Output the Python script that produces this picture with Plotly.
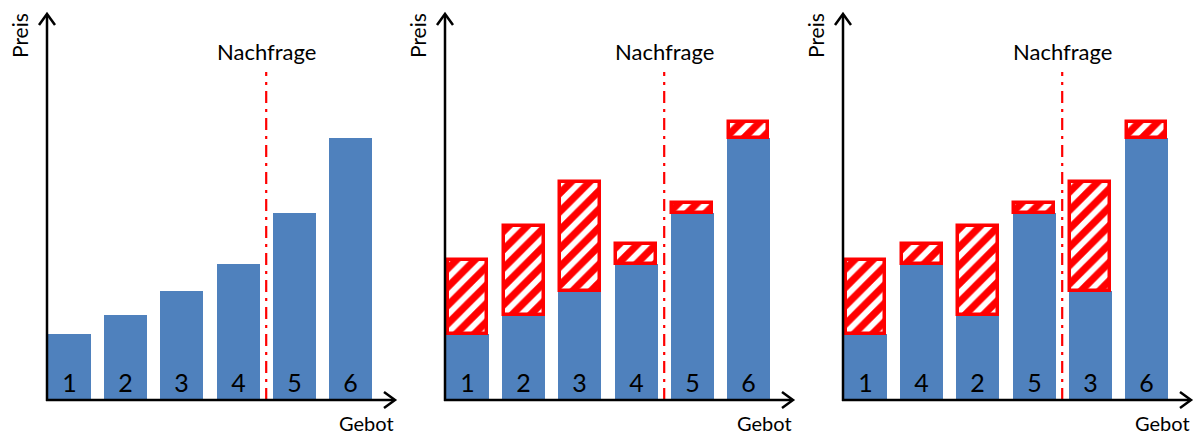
import plotly.graph_objects as go

# ---- data ----
bidders = ["1", "2", "3", "4", "5", "6"]
cost = [66, 85, 109, 136, 187, 262]          # blue bars (true cost)
bid = [140, 174, 218, 156, 197, 278]         # bid price (top of hatched box)
order3 = ["1", "4", "2", "5", "3", "6"]      # bidder order in panel 3
demand_pos = 3.5                             # position of demand line
demand_top = 328

W, H = 1200, 435
BLUE = "#4F81BD"
RED = "#FF0000"

def fx(px):
    return px / W

def fy(py):
    return 1 - py / H

panels = [(47, 395), (445, 793), (843, 1191)]
x_first_center = 69.5
spacing = 56.2
y_base_px = 400
y_top_px = 14

fig = go.Figure()

for i, (x0p, x1p) in enumerate(panels):
    sfx = "" if i == 0 else str(i + 1)
    xa = "x" + sfx
    ya = "y" + sfx
    rng_l = -(x_first_center - 47) / spacing
    rng_r = 5 + (395 - (x_first_center + 5 * spacing)) / spacing
    fig.layout["xaxis" + sfx] = dict(domain=[fx(x0p), fx(x1p)], range=[rng_l, rng_r],
                                     visible=False, fixedrange=True)
    fig.layout["yaxis" + sfx] = dict(domain=[fy(y_base_px), fy(y_top_px)],
                                     range=[0, y_base_px - y_top_px],
                                     visible=False, fixedrange=True)

    labels = bidders if i < 2 else order3
    idx = [bidders.index(l) for l in labels]
    c = [cost[k] for k in idx]
    b = [bid[k] for k in idx]
    xs = list(range(len(labels)))

    fig.add_trace(go.Bar(
        x=xs, y=c, xaxis=xa, yaxis=ya, width=0.765,
        marker=dict(color=BLUE, line=dict(width=0)),
        text=labels, textposition="inside", insidetextanchor="start",
        textangle=0, constraintext="none",
        textfont=dict(size=25, color="black", family="Lato"),
        showlegend=False, hoverinfo="skip"))

    if i > 0:
        fig.add_trace(go.Bar(
            x=xs, y=[bb - cc for bb, cc in zip(b, c)], base=c,
            xaxis=xa, yaxis=ya, width=0.765 - 0.06,
            marker=dict(color="white", opacity=1, line=dict(color=RED, width=3.5),
                        pattern=dict(shape="/", fgcolor=RED, bgcolor="white",
                                     fgopacity=1, fillmode="replace",
                                     size=13, solidity=0.55)),
            showlegend=False, hoverinfo="skip"))

    # demand line
    fig.add_shape(type="line", xref=xa, yref=ya, x0=demand_pos, x1=demand_pos,
                  y0=0, y1=demand_top,
                  line=dict(color=RED, width=2.2, dash="12px,6px,3px,6px"))

    # axes
    ax_line = dict(color="black", width=2.5)
    fig.add_shape(type="line", xref="paper", yref="paper",
                  x0=fx(x0p), x1=fx(x0p), y0=fy(y_base_px + 1), y1=fy(y_top_px + 1), line=ax_line)
    fig.add_shape(type="line", xref="paper", yref="paper",
                  x0=fx(x0p - 1), x1=fx(x1p - 1), y0=fy(y_base_px), y1=fy(y_base_px), line=ax_line)
    # arrow heads
    tipx, tipy = x0p, y_top_px
    fig.add_shape(type="path", xref="paper", yref="paper",
                  path=f"M {fx(tipx-8)},{fy(tipy+11)} L {fx(tipx)},{fy(tipy)} L {fx(tipx+8)},{fy(tipy+11)}",
                  line=ax_line)
    tipx, tipy = x1p, y_base_px
    fig.add_shape(type="path", xref="paper", yref="paper",
                  path=f"M {fx(tipx-11)},{fy(tipy-8)} L {fx(tipx)},{fy(tipy)} L {fx(tipx-11)},{fy(tipy+8)}",
                  line=ax_line)

    off = x0p - 47
    fig.add_annotation(text="Nachfrage", xref="paper", yref="paper",
                       x=fx(266 + off), y=fy(51), showarrow=False,
                       xanchor="center", yanchor="middle",
                       font=dict(size=22, color="black", family="Lato"))
    fig.add_annotation(text="Preis", xref="paper", yref="paper",
                       x=fx(20 + off), y=fy(36), showarrow=False, textangle=-90,
                       xanchor="center", yanchor="middle",
                       font=dict(size=21, color="black", family="Lato"))
    fig.add_annotation(text="Gebot", xref="paper", yref="paper",
                       x=fx(396 + off), y=fy(423), showarrow=False,
                       xanchor="right", yanchor="middle",
                       font=dict(size=20, color="black", family="Lato"))

fig.update_layout(width=W, height=H, margin=dict(l=0, r=0, t=0, b=0),
                  paper_bgcolor="white", plot_bgcolor="white",
                  barmode="overlay", bargap=0)

fig.write_html("out.html", config={"displayModeBar": False},
               post_script="document.body.style.margin='0';document.body.style.overflow='hidden';")
